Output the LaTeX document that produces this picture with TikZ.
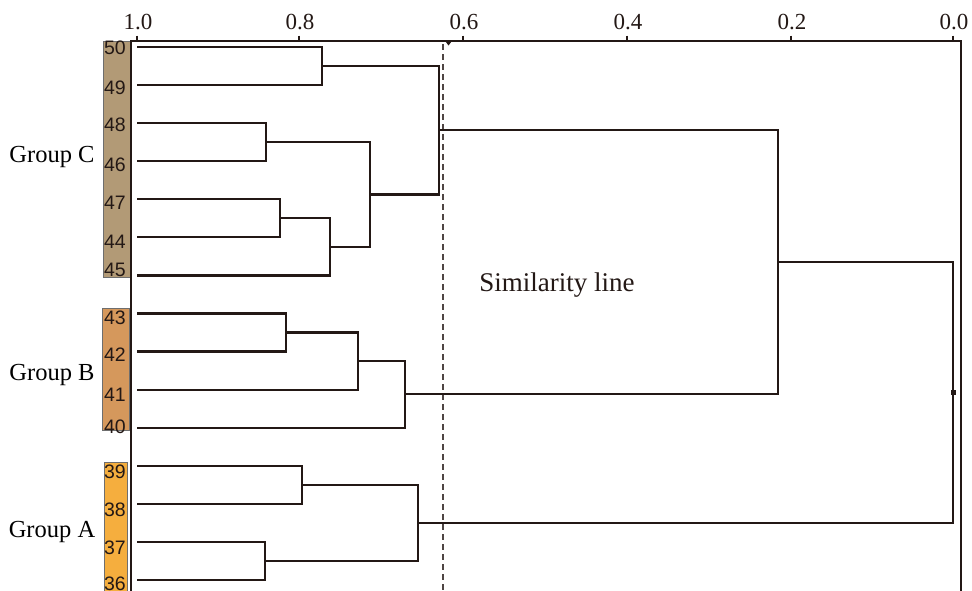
\documentclass[tikz,border=0pt]{standalone}
\usepackage{fontspec}
\usetikzlibrary{calc}
\setmainfont{Liberation Serif}
\newfontfamily\numfont{Liberation Sans}
\definecolor{ink}{RGB}{35,24,21}
\definecolor{grpC}{RGB}{178,154,118}
\definecolor{grpB}{RGB}{213,152,92}
\definecolor{grpA}{RGB}{245,174,62}
\definecolor{boxedge}{RGB}{110,110,110}
\begin{document}
\begin{tikzpicture}[x=1pt,y=-1pt,
  branch/.style={draw=ink,line width=2.2pt,line join=miter},
  frame/.style={draw=ink,line width=1.6pt},
  tick/.style={draw=ink,line width=1.6pt},
  ticklabel/.style={font=\fontsize{23}{23}\selectfont,text=ink,inner sep=0pt},
  grouplabel/.style={font=\fontsize{24.5}{24.5}\selectfont,text=black,inner sep=0pt},
  leafnum/.style={font=\numfont\fontsize{19.5}{19.5}\selectfont,text=ink,inner sep=0pt},
  groupbox/.style={draw=boxedge,line width=0.8pt}]
\useasboundingbox (0,0) rectangle (972,590);

% group boxes
\path[groupbox,fill=grpC] (103,41) rectangle (130,277);
\path[groupbox,fill=grpB] (102,308) rectangle (129,430);
\path[groupbox,fill=grpA] (104,462) rectangle (127,592);

% frame
\draw[frame] (131,592) -- (131,41) -- (961,41) -- (961,592);

% ticks and labels
\foreach \v/\x in {1.0/137,0.8/299,0.6/463,0.4/627,0.2/791,0.0/953}{
  \draw[tick] (\x,35.5) -- (\x,41);
  \node[ticklabel] (t\x) at (\x+1,22) {\v};
}

% similarity line
\draw[draw=ink!80,line width=1.2pt,dash pattern=on 6pt off 4pt] (443,44) -- (443,592);
\fill[ink] (445.5,41.5) -- (451.5,41.5) -- (448.5,45.5) -- cycle;
\node[font=\fontsize{27}{27}\selectfont,text=ink,inner sep=0pt] (sim) at (557,285) {Similarity line};

% group labels
\node[grouplabel] (gC) at (52,157) {Group C};
\node[grouplabel] (gB) at (52,375) {Group B};
\node[grouplabel] (gA) at (52,532) {Group A};

% leaves
\foreach \n/\i in {50/0,49/1,48/2,46/3,47/4,44/5,45/6,43/7,42/8,41/9,40/10,39/11,38/12,37/13,36/14}{
  \coordinate (l\n) at (137,{47+38.07*\i});
}
\foreach \n/\yy in {50/48,49/88,48/125,46/165,47/203,44/242,45/270,43/318,42/355,41/395,40/427,39/472,38/510,37/548,36/584}{
  \node[leafnum] (n\n) at (115,\yy) {\n};
}

% merges
\coordinate (m1) at (322,{47+38.07*0.5});
\coordinate (m2) at (266,{47+38.07*2.5});
\coordinate (m3) at (280,{47+38.07*4.5});
\coordinate (m4) at (330,{47+38.07*5.25});
\coordinate (m5) at (370,{47+38.07*(2.5+5.25)/2});
\coordinate (m6) at (439,{47+38.07*(0.5+(2.5+5.25)/2)/2});
\coordinate (m7) at (286,{47+38.07*7.5});
\coordinate (m8) at (358,{47+38.07*8.25});
\coordinate (m9) at (405,{47+38.07*9.125});
\coordinate (m10) at (778,{47+38.07*((0.5+(2.5+5.25)/2)/2+9.125)/2});
\coordinate (m11) at (302,{47+38.07*11.5});
\coordinate (m12) at (265,{47+38.07*13.5});
\coordinate (m13) at (418,{47+38.07*12.5});
\coordinate (root) at (953,{47+38.07*(((0.5+(2.5+5.25)/2)/2+9.125)/2+12.5)/2});

\draw[branch] (l50) -| (m1) |- (l49);
\draw[branch] (l48) -| (m2) |- (l46);
\draw[branch] (l47) -| (m3) |- (l44);
\draw[branch] (m3) -| (m4) |- (l45);
\draw[branch] (m2) -| (m5) |- (m4);
\draw[branch] (m1) -| (m6) |- (m5);
\draw[branch] (l43) -| (m7) |- (l42);
\draw[branch] (m7) -| (m8) |- (l41);
\draw[branch] (m8) -| (m9) |- (l40);
\draw[branch] (m6) -| (m10) |- (m9);
\draw[branch] (l39) -| (m11) |- (l38);
\draw[branch] (l37) -| (m12) |- (l36);
\draw[branch] (m11) -| (m13) |- (m12);
\draw[branch] (m10) -| (root) |- (m13);
\fill[ink] ($(root)+(-2.5,-2.5)$) rectangle ($(root)+(2.5,2.5)$);
\end{tikzpicture}
\end{document}
